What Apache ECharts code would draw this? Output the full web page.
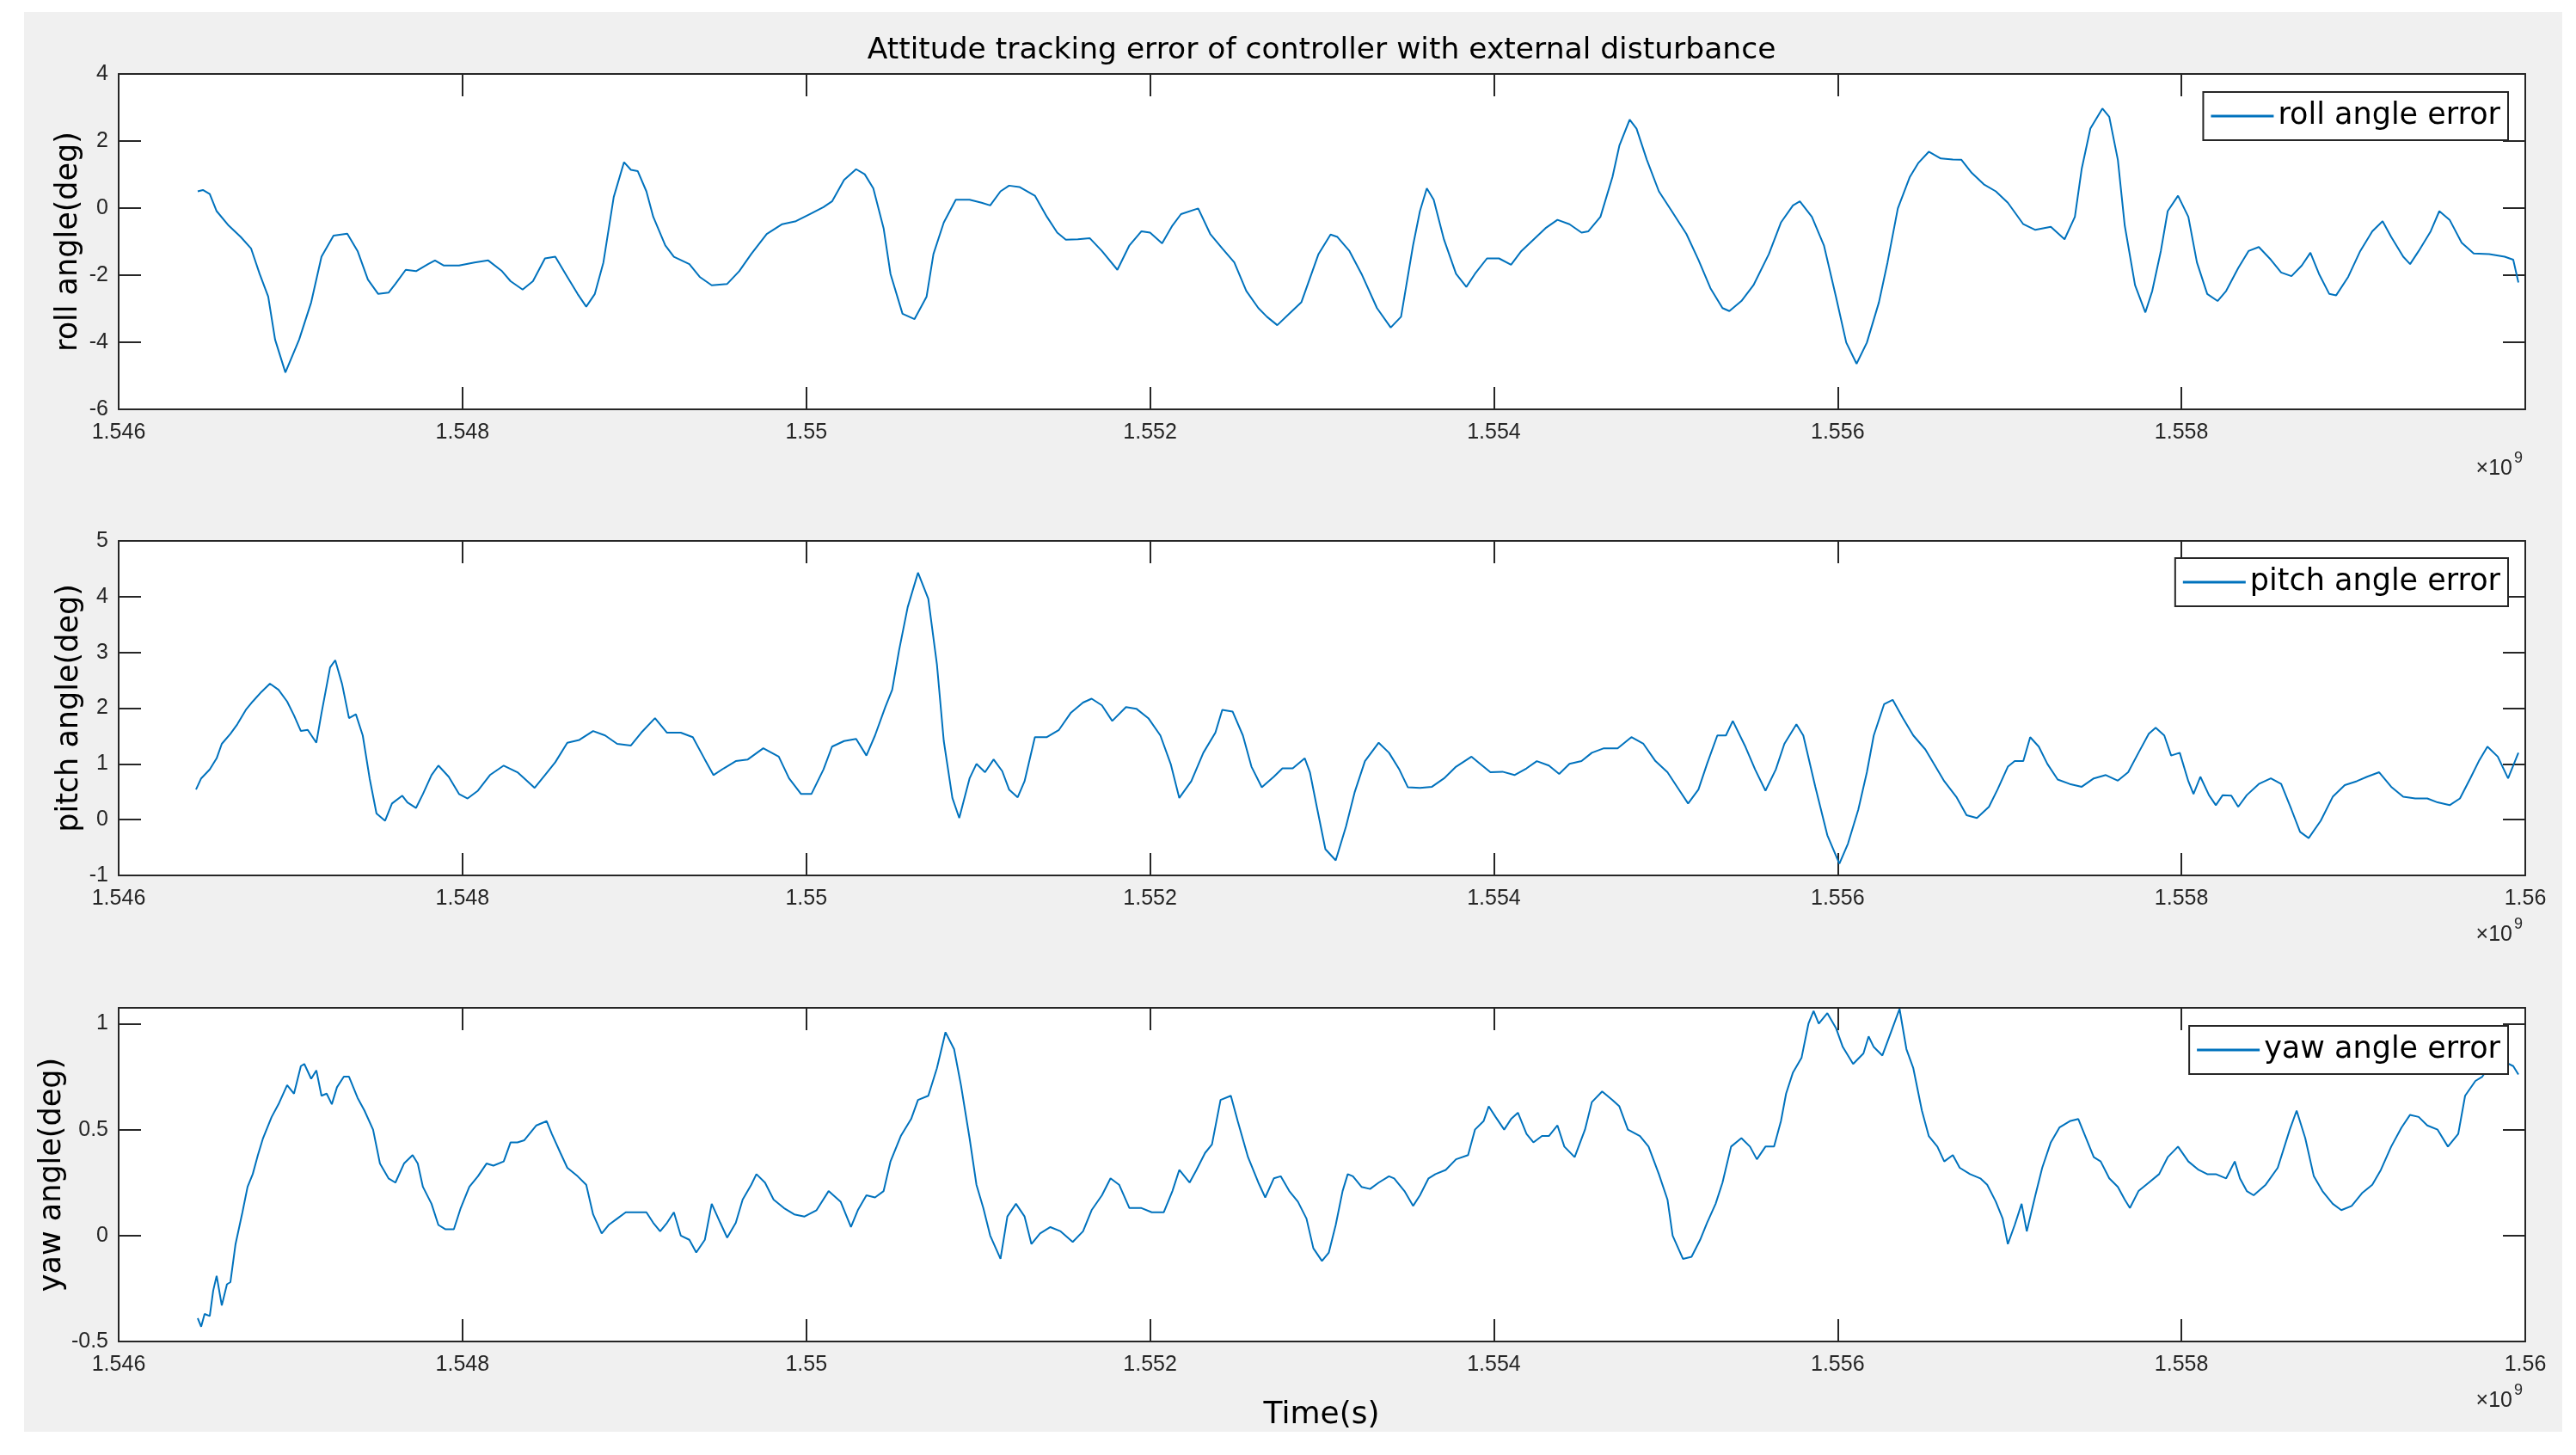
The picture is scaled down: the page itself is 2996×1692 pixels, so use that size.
<!DOCTYPE html>
<html>
<head>
<meta charset="utf-8">
<script src="https://cdn.jsdelivr.net/npm/echarts@6/dist/echarts.min.js"></script>
<style>
html,body{margin:0;padding:0;background:#fff;}
#chart{width:2996px;height:1692px;}
</style>
</head>
<body>
<div id="chart"></div>
<script>
// Time values are in units of 10^6 s (axis shows value/1000 with a x10^9 multiplier)
const titleText = 'Attitude tracking error of controller with external disturbance';
const xLabelText = 'Time(s)';
const seriesNames = ['roll angle error', 'pitch angle error', 'yaw angle error'];
const yLabels = ['roll angle(deg)', 'pitch angle(deg)', 'yaw angle(deg)'];
const xRange = [1546, 1560, 2];
const rollRange = [-6, 4, 2];
const pitchRange = [-1, 5, 1];
const yawRange = [-0.5, 1.075, 0.5];

const rollData = [
[1546.46,0.50],[1546.49,0.54],[1546.53,0.42],[1546.57,-0.09],[1546.64,-0.52],[1546.71,-0.86],[1546.77,-1.2],[1546.82,-1.96],[1546.87,-2.64],[1546.91,-3.92],[1546.97,-4.90],[1547.05,-3.92],[1547.12,-2.81],[1547.18,-1.45],[1547.25,-0.82],[1547.33,-0.76],[1547.39,-1.28],[1547.45,-2.13],[1547.51,-2.56],[1547.57,-2.52],[1547.61,-2.26],[1547.67,-1.84],[1547.73,-1.88],[1547.80,-1.67],[1547.84,-1.56],[1547.89,-1.71],[1547.98,-1.71],[1548.07,-1.62],[1548.15,-1.56],[1548.23,-1.88],[1548.28,-2.18],[1548.35,-2.43],[1548.41,-2.18],[1548.48,-1.50],[1548.54,-1.45],[1548.61,-2.05],[1548.67,-2.56],[1548.72,-2.94],[1548.77,-2.56],[1548.82,-1.62],[1548.88,0.33],[1548.94,1.37],[1548.98,1.14],[1549.02,1.10],[1549.07,0.50],[1549.11,-0.26],[1549.18,-1.11],[1549.23,-1.45],[1549.32,-1.67],[1549.38,-2.05],[1549.45,-2.30],[1549.54,-2.26],[1549.61,-1.88],[1549.68,-1.37],[1549.77,-0.77],[1549.86,-0.48],[1549.94,-0.39],[1550.02,-0.18],[1550.10,0.03],[1550.15,0.20],[1550.22,0.84],[1550.29,1.16],[1550.34,1.01],[1550.39,0.59],[1550.45,-0.60],[1550.49,-1.96],[1550.56,-3.15],[1550.63,-3.31],[1550.70,-2.64],[1550.74,-1.37],[1550.80,-0.43],[1550.87,0.25],[1550.95,0.25],[1551.02,0.16],[1551.07,0.08],[1551.13,0.50],[1551.18,0.67],[1551.24,0.63],[1551.33,0.37],[1551.40,-0.26],[1551.46,-0.73],[1551.51,-0.94],[1551.58,-0.93],[1551.65,-0.90],[1551.72,-1.28],[1551.81,-1.84],[1551.88,-1.11],[1551.95,-0.69],[1552.00,-0.73],[1552.07,-1.05],[1552.13,-0.52],[1552.18,-0.18],[1552.28,-0.01],[1552.35,-0.77],[1552.42,-1.20],[1552.49,-1.62],[1552.56,-2.47],[1552.63,-2.98],[1552.68,-3.24],[1552.74,-3.49],[1552.81,-3.15],[1552.88,-2.81],
[1552.98,-1.37],[1553.05,-0.79],[1553.09,-0.86],[1553.16,-1.28],[1553.23,-1.96],[1553.32,-2.98],[1553.40,-3.56],[1553.46,-3.24],[1553.53,-1.11],[1553.57,-0.09],[1553.61,0.59],[1553.65,0.25],[1553.71,-0.94],[1553.78,-1.96],[1553.84,-2.35],[1553.89,-1.96],[1553.96,-1.50],[1554.03,-1.50],[1554.10,-1.69],[1554.16,-1.28],[1554.23,-0.94],[1554.30,-0.60],[1554.37,-0.35],[1554.44,-0.48],[1554.51,-0.73],[1554.55,-0.69],[1554.62,-0.26],[1554.69,0.93],[1554.73,1.86],[1554.79,2.64],[1554.83,2.37],[1554.89,1.44],[1554.96,0.50],[1555.03,-0.05],[1555.12,-0.77],[1555.19,-1.54],[1555.26,-2.39],[1555.33,-2.98],[1555.37,-3.07],[1555.44,-2.77],[1555.51,-2.30],[1555.60,-1.37],[1555.67,-0.43],[1555.74,0.08],[1555.78,0.20],[1555.85,-0.26],[1555.92,-1.11],[1555.99,-2.64],[1556.05,-4.01],[1556.11,-4.64],[1556.17,-4.01],[1556.24,-2.81],[1556.29,-1.62],[1556.35,-0.01],[1556.42,0.93],[1556.47,1.35],[1556.53,1.68],[1556.60,1.48],[1556.67,1.45],[1556.72,1.44],[1556.78,1.05],[1556.85,0.71],[1556.92,0.50],[1556.99,0.16],[1557.08,-0.48],[1557.15,-0.65],[1557.24,-0.56],[1557.32,-0.93],[1557.38,-0.26],[1557.42,1.18],[1557.47,2.37],[1557.54,2.97],[1557.58,2.72],[1557.63,1.44],[1557.67,-0.52],[1557.73,-2.30],[1557.79,-3.11],[1557.83,-2.47],[1557.88,-1.28],[1557.92,-0.09],[1557.98,0.37],[1558.04,-0.26],[1558.09,-1.62],[1558.15,-2.56],[1558.21,-2.77],[1558.26,-2.47],[1558.33,-1.79],[1558.39,-1.28],[1558.45,-1.16],[1558.52,-1.54],[1558.58,-1.92],[1558.64,-2.03],[1558.70,-1.71],[1558.75,-1.33],[1558.80,-1.96],[1558.86,-2.56],[1558.90,-2.60],[1558.97,-2.05],[1559.04,-1.28],[1559.11,-0.69],[1559.17,-0.39],[1559.22,-0.86],[1559.29,-1.45],[1559.33,-1.67],[1559.38,-1.28],[1559.45,-0.69],[1559.50,-0.09],[1559.56,-0.35],[1559.63,-1.03],[1559.70,-1.35],[1559.79,-1.37],[1559.88,-1.45],[1559.93,-1.54],[1559.96,-2.22]
];

const pitchData = [
[1546.45,0.54],[1546.48,0.74],[1546.53,0.90],[1546.57,1.10],[1546.60,1.36],[1546.65,1.54],[1546.69,1.71],[1546.74,1.97],[1546.78,2.12],[1546.83,2.29],[1546.88,2.44],[1546.93,2.33],[1546.98,2.12],[1547.02,1.87],[1547.06,1.59],[1547.10,1.61],[1547.15,1.38],[1547.18,1.91],[1547.23,2.73],[1547.26,2.86],[1547.30,2.43],[1547.34,1.82],[1547.38,1.89],[1547.42,1.51],[1547.46,0.74],[1547.50,0.11],[1547.55,-0.02],[1547.59,0.29],[1547.65,0.43],[1547.68,0.31],[1547.73,0.21],[1547.77,0.46],[1547.82,0.80],[1547.86,0.97],[1547.92,0.77],[1547.98,0.46],[1548.03,0.38],[1548.09,0.52],[1548.16,0.80],[1548.24,0.97],[1548.32,0.85],[1548.36,0.74],[1548.42,0.57],[1548.48,0.80],[1548.54,1.03],[1548.61,1.38],[1548.68,1.43],[1548.76,1.59],[1548.83,1.51],[1548.90,1.36],[1548.98,1.33],[1549.04,1.56],[1549.12,1.82],[1549.19,1.56],[1549.27,1.56],[1549.34,1.48],[1549.41,1.08],[1549.46,0.80],[1549.52,0.92],[1549.59,1.05],[1549.66,1.08],[1549.75,1.28],[1549.84,1.13],[1549.90,0.74],[1549.97,0.46],[1550.03,0.46],[1550.10,0.90],[1550.15,1.31],[1550.22,1.41],[1550.29,1.45],[1550.35,1.15],[1550.40,1.51],[1550.46,2.02],[1550.50,2.33],[1550.54,3.04],[1550.59,3.81],[1550.65,4.43],[1550.71,3.96],[1550.76,2.79],[1550.80,1.41],[1550.85,0.39],[1550.89,0.03],[1550.95,0.74],[1550.99,1.00],[1551.04,0.85],[1551.09,1.08],[1551.14,0.87],[1551.18,0.54],[1551.23,0.40],[1551.27,0.69],[1551.33,1.48],[1551.40,1.48],[1551.47,1.61],[1551.54,1.92],[1551.61,2.10],[1551.66,2.17],[1551.72,2.05],[1551.78,1.77],[1551.86,2.02],[1551.92,1.99],[1551.99,1.82],[1552.06,1.51],[1552.12,1.00],[1552.17,0.39],[1552.24,0.69],[1552.31,1.20],[1552.38,1.56],[1552.42,1.97],[1552.48,1.94],[1552.54,1.51],[1552.59,0.95],[1552.65,0.58],[1552.72,0.77],[1552.77,0.92],[1552.83,0.92],[1552.90,1.10],[1552.93,0.85],
[1552.97,0.23],[1553.02,-0.53],[1553.08,-0.73],[1553.14,-0.12],[1553.19,0.49],[1553.25,1.05],[1553.33,1.38],[1553.39,1.20],[1553.45,0.90],[1553.50,0.58],[1553.57,0.57],[1553.64,0.59],[1553.71,0.74],[1553.78,0.95],[1553.87,1.13],[1553.92,1.00],[1553.98,0.85],[1554.05,0.86],[1554.12,0.80],[1554.19,0.92],[1554.25,1.05],[1554.32,0.97],[1554.38,0.82],[1554.44,1.00],[1554.51,1.05],[1554.57,1.20],[1554.64,1.28],[1554.72,1.28],[1554.80,1.48],[1554.87,1.36],[1554.94,1.05],[1555.01,0.85],[1555.07,0.57],[1555.13,0.29],[1555.19,0.54],[1555.24,1.00],[1555.30,1.51],[1555.35,1.51],[1555.39,1.77],[1555.46,1.33],[1555.52,0.90],[1555.58,0.52],[1555.64,0.90],[1555.69,1.36],[1555.76,1.71],[1555.80,1.51],[1555.87,0.59],[1555.94,-0.28],[1556.01,-0.79],[1556.06,-0.43],[1556.12,0.18],[1556.17,0.85],[1556.21,1.51],[1556.27,2.07],[1556.32,2.15],[1556.38,1.82],[1556.44,1.51],[1556.51,1.26],[1556.56,1.00],[1556.62,0.69],[1556.69,0.41],[1556.75,0.08],[1556.81,0.03],[1556.88,0.23],[1556.93,0.54],[1556.99,0.95],[1557.03,1.05],[1557.08,1.05],[1557.12,1.48],[1557.17,1.31],[1557.22,1.00],[1557.28,0.72],[1557.35,0.64],[1557.42,0.59],[1557.49,0.74],[1557.56,0.80],[1557.63,0.70],[1557.69,0.85],[1557.75,1.20],[1557.81,1.54],[1557.85,1.65],[1557.90,1.51],[1557.94,1.15],[1557.99,1.20],[1558.04,0.69],[1558.07,0.46],[1558.11,0.77],[1558.16,0.44],[1558.20,0.26],[1558.24,0.44],[1558.29,0.43],[1558.33,0.23],[1558.38,0.44],[1558.45,0.64],[1558.52,0.74],[1558.58,0.64],[1558.64,0.18],[1558.69,-0.22],[1558.74,-0.33],[1558.81,-0.02],[1558.88,0.41],[1558.95,0.62],[1559.02,0.69],[1559.08,0.77],[1559.15,0.85],[1559.22,0.59],[1559.29,0.41],[1559.36,0.38],[1559.43,0.38],[1559.49,0.31],[1559.56,0.26],[1559.62,0.38],[1559.68,0.74],[1559.73,1.05],[1559.78,1.31],[1559.84,1.13],[1559.90,0.74],[1559.96,1.20]
];

const yawData = [
[1546.46,-0.39],[1546.48,-0.43],[1546.50,-0.37],[1546.53,-0.38],[1546.55,-0.26],[1546.57,-0.19],[1546.60,-0.33],[1546.63,-0.23],[1546.65,-0.22],[1546.68,-0.04],[1546.72,0.11],[1546.75,0.23],[1546.78,0.29],[1546.81,0.38],[1546.84,0.46],[1546.89,0.56],[1546.93,0.62],[1546.98,0.71],[1547.02,0.67],[1547.06,0.80],[1547.08,0.81],[1547.12,0.74],[1547.15,0.78],[1547.18,0.66],[1547.21,0.67],[1547.24,0.62],[1547.27,0.70],[1547.31,0.75],[1547.34,0.75],[1547.39,0.65],[1547.43,0.59],[1547.48,0.50],[1547.52,0.34],[1547.57,0.27],[1547.61,0.25],[1547.66,0.34],[1547.71,0.38],[1547.74,0.34],[1547.77,0.23],[1547.82,0.15],[1547.86,0.05],[1547.90,0.03],[1547.95,0.03],[1547.99,0.13],[1548.04,0.23],[1548.09,0.28],[1548.14,0.34],[1548.18,0.33],[1548.24,0.35],[1548.28,0.44],[1548.32,0.44],[1548.36,0.45],[1548.43,0.52],[1548.49,0.54],[1548.52,0.48],[1548.57,0.39],[1548.61,0.32],[1548.67,0.28],[1548.72,0.24],[1548.76,0.10],[1548.81,0.01],[1548.85,0.05],[1548.90,0.08],[1548.95,0.11],[1549.01,0.11],[1549.07,0.11],[1549.11,0.06],[1549.15,0.02],[1549.19,0.06],[1549.23,0.11],[1549.27,0.00],[1549.32,-0.02],[1549.36,-0.08],[1549.41,-0.02],[1549.45,0.15],[1549.50,0.06],[1549.54,-0.01],[1549.59,0.06],[1549.63,0.17],[1549.68,0.24],[1549.71,0.29],[1549.76,0.25],[1549.81,0.17],[1549.87,0.13],[1549.93,0.10],[1549.99,0.09],[1550.06,0.12],[1550.13,0.21],[1550.20,0.16],[1550.26,0.04],[1550.30,0.12],[1550.35,0.19],[1550.40,0.18],[1550.45,0.21],[1550.49,0.35],[1550.55,0.47],[1550.61,0.55],[1550.65,0.64],[1550.71,0.66],[1550.76,0.79],[1550.81,0.96],[1550.86,0.88],[1550.90,0.71],[1550.95,0.46],[1550.99,0.24],[1551.03,0.13],[1551.07,0.00],[1551.13,-0.11],[1551.17,0.09],[1551.22,0.15],[1551.27,0.09],[1551.31,-0.04],[1551.36,0.01],[1551.42,0.04],[1551.48,0.02],[1551.55,-0.03],[1551.61,0.02],[1551.66,0.12],[1551.72,0.19],[1551.77,0.27],[1551.82,0.24],[1551.88,0.13],[1551.95,0.13],[1552.01,0.11],[1552.08,0.11],[1552.13,0.21],[1552.17,0.31],[1552.23,0.25],[1552.27,0.31],[1552.32,0.39],[1552.36,0.43],[1552.41,0.64],[1552.47,0.66],[1552.51,0.54],[1552.57,0.37],[1552.63,0.25],[1552.67,0.18],[1552.72,0.27],[1552.76,0.28],[1552.81,0.21],[1552.86,0.16],
[1552.91,0.08],[1552.95,-0.06],[1553.00,-0.12],[1553.04,-0.08],[1553.08,0.05],[1553.12,0.21],[1553.15,0.29],[1553.18,0.28],[1553.23,0.23],[1553.28,0.22],[1553.33,0.25],[1553.39,0.28],[1553.42,0.27],[1553.48,0.21],[1553.53,0.14],[1553.57,0.19],[1553.62,0.27],[1553.66,0.29],[1553.72,0.31],[1553.78,0.36],[1553.85,0.38],[1553.89,0.50],[1553.94,0.54],[1553.97,0.61],[1554.01,0.56],[1554.06,0.50],[1554.10,0.55],[1554.14,0.58],[1554.19,0.48],[1554.23,0.44],[1554.28,0.47],[1554.32,0.47],[1554.37,0.52],[1554.41,0.42],[1554.47,0.37],[1554.53,0.50],[1554.57,0.63],[1554.63,0.68],[1554.69,0.64],[1554.73,0.61],[1554.78,0.50],[1554.85,0.47],[1554.90,0.42],[1554.96,0.29],[1555.01,0.17],[1555.04,0.00],[1555.10,-0.11],[1555.15,-0.10],[1555.20,-0.02],[1555.24,0.06],[1555.29,0.15],[1555.33,0.25],[1555.38,0.42],[1555.44,0.46],[1555.49,0.42],[1555.53,0.36],[1555.58,0.42],[1555.63,0.42],[1555.67,0.54],[1555.70,0.67],[1555.74,0.77],[1555.79,0.84],[1555.83,1.00],[1555.86,1.06],[1555.89,1.00],[1555.94,1.05],[1555.99,0.98],[1556.03,0.89],[1556.09,0.81],[1556.15,0.86],[1556.18,0.94],[1556.21,0.89],[1556.26,0.85],[1556.31,0.96],[1556.36,1.07],[1556.40,0.88],[1556.44,0.79],[1556.49,0.59],[1556.53,0.47],[1556.58,0.42],[1556.62,0.35],[1556.67,0.38],[1556.71,0.32],[1556.77,0.29],[1556.83,0.27],[1556.87,0.24],[1556.92,0.16],[1556.96,0.08],[1556.99,-0.04],[1557.03,0.05],[1557.07,0.15],[1557.10,0.02],[1557.15,0.19],[1557.19,0.32],[1557.24,0.44],[1557.29,0.51],[1557.35,0.54],[1557.40,0.55],[1557.44,0.47],[1557.49,0.37],[1557.53,0.35],[1557.58,0.27],[1557.63,0.23],[1557.67,0.17],[1557.70,0.13],[1557.75,0.21],[1557.81,0.25],[1557.87,0.29],[1557.92,0.37],[1557.98,0.42],[1558.04,0.35],[1558.10,0.31],[1558.15,0.29],[1558.20,0.29],[1558.26,0.27],[1558.31,0.35],[1558.34,0.27],[1558.38,0.21],[1558.42,0.19],[1558.49,0.24],[1558.56,0.32],[1558.63,0.50],[1558.67,0.59],[1558.72,0.46],[1558.77,0.28],[1558.82,0.21],[1558.88,0.15],[1558.93,0.12],[1558.99,0.14],[1559.05,0.20],[1559.11,0.24],[1559.16,0.31],[1559.22,0.42],[1559.28,0.51],[1559.33,0.57],[1559.38,0.56],[1559.43,0.52],[1559.49,0.50],[1559.55,0.42],[1559.61,0.48],[1559.65,0.66],[1559.71,0.73],[1559.75,0.75],[1559.80,0.81],[1559.85,0.80],[1559.88,0.82],[1559.93,0.80],[1559.96,0.76]
];

const LINE = '#0072BD';
const AX = '#262626';
const BIG = '"DejaVu Sans", sans-serif';
const SMALL = '"Liberation Sans", Arial, sans-serif';

const grids = [
  {left:138, right:59, top:86, height:390},
  {left:138, right:59, top:629, height:389},
  {left:138, right:59, top:1172, height:388}
];
const yRanges = [rollRange, pitchRange, yawRange];
const datas = [rollData, pitchData, yawData];
const legendTops = [107, 649, 1193];
const yLabelX = [80, 81, 61];

function fmtX(v){ return (v/1000).toFixed(3).replace(/0+$/,'').replace(/\.$/,''); }
function fmtY(step){ return function(v){ const k = v/step; return Math.abs(k-Math.round(k))<1e-6 ? String(+v.toFixed(3)) : ''; }; }

const xAxis = [], yAxis = [], series = [], legend = [], graphic = [];
graphic.push({type:'rect', z:-10, shape:{x:28,y:14,width:2952,height:1651}, style:{fill:'#f0f0f0'}});

grids.forEach(function(g, i){
  g.show = true; g.backgroundColor = '#ffffff'; g.borderWidth = 0;
  const common = {type:'value', gridIndex:i, min:xRange[0], max:xRange[1], interval:xRange[2],
    splitLine:{show:false},
    axisLine:{show:true, onZero:false, lineStyle:{color:AX, width:2}},
    axisTick:{show:true, inside:true, length:26, lineStyle:{color:AX, width:2}}};
  xAxis.push(Object.assign({}, common, {position:'bottom',
    axisLabel:{show:true, margin:15, color:AX, fontFamily:SMALL, fontSize:25, formatter:fmtX, showMaxLabel: i !== 0}}));
  xAxis.push(Object.assign({}, common, {position:'top', axisLabel:{show:false}}));
  const r = yRanges[i];
  const ycommon = {type:'value', gridIndex:i, min:r[0], max:r[1], interval:r[2],
    splitLine:{show:false},
    axisLine:{show:true, onZero:false, lineStyle:{color:AX, width:2}},
    axisTick:{show:true, inside:true, length:26, lineStyle:{color:AX, width:2}}};
  yAxis.push(Object.assign({}, ycommon, {position:'left',
    axisLabel:{show:true, margin:12, color:AX, fontFamily:SMALL, fontSize:25, formatter:fmtY(r[2])}}));
  yAxis.push(Object.assign({}, ycommon, {position:'right', axisLabel:{show:false}}));

  series.push({type:'line', name:seriesNames[i], xAxisIndex:2*i, yAxisIndex:2*i, data:datas[i],
    showSymbol:false, symbol:'none', animation:false, clip:true,
    lineStyle:{color:LINE, width:2}, itemStyle:{color:LINE}, z:2});

  legend.push({data:[seriesNames[i]], right:79, top:legendTops[i], orient:'horizontal',
    padding:[8,9,8,9], itemWidth:73, itemHeight:3, icon:'rect', itemGap:0, selectedMode:false,
    backgroundColor:'#ffffff', borderColor:AX, borderWidth:2, borderRadius:0,
    textStyle:{fontFamily:BIG, fontSize:35, color:'#000', lineHeight:40}});

  const gc = g.top + g.height/2;
  graphic.push({type:'text', x:yLabelX[i], y:gc, rotation:Math.PI/2,
    style:{text:yLabels[i], fontFamily:BIG, fontSize:35, fill:'#000', align:'center', verticalAlign:'middle'}});
  const bottom = g.top + g.height;
  graphic.push({type:'text', x:2922, y:bottom+69,
    style:{text:'\u00d710', fontFamily:SMALL, fontSize:25, fill:AX, align:'right', verticalAlign:'middle'}});
  graphic.push({type:'text', x:2924, y:bottom+57,
    style:{text:'9', fontFamily:SMALL, fontSize:18, fill:AX, align:'left', verticalAlign:'middle'}});
});

graphic.push({type:'text', x:1537, y:59,
  style:{text:titleText, fontFamily:BIG, fontSize:34.5, fill:'#000', align:'center', verticalAlign:'middle'}});
graphic.push({type:'text', x:1537, y:1646,
  style:{text:xLabelText, fontFamily:BIG, fontSize:36, fill:'#000', align:'center', verticalAlign:'middle'}});

const chart = echarts.init(document.getElementById('chart'), null, {renderer:'canvas'});
chart.setOption({
  backgroundColor:'#ffffff',
  animation:false,
  grid:grids, xAxis:xAxis, yAxis:yAxis, series:series, legend:legend, graphic:graphic
});
</script>
</body>
</html>
